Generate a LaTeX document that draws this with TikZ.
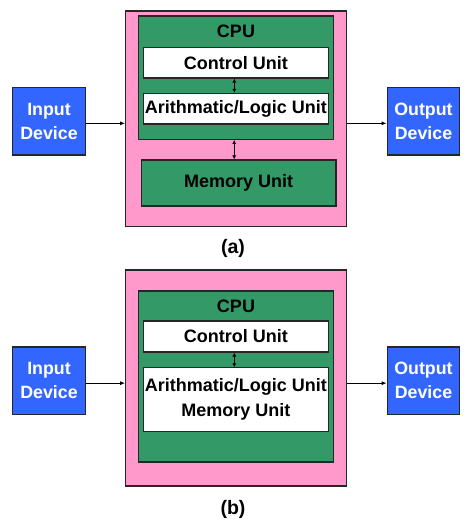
\documentclass[tikz,border=0pt]{standalone}
\usepackage{fontspec}
\setmainfont{Liberation Sans}
\usetikzlibrary{arrows.meta}
\definecolor{pinkbg}{HTML}{FF99CC}
\definecolor{cpugreen}{HTML}{339966}
\definecolor{devblue}{HTML}{3366FF}
\tikzset{
  box/.style={draw=black!85, line width=1.1pt, inner sep=0pt, rectangle},
  outerbox/.style={box, fill=pinkbg},
  cpubox/.style={box, fill=cpugreen},
  unitbox/.style={box, fill=white, minimum width=185pt, font=\bfseries\fontsize{18}{25}\selectfont, align=center},
  devbox/.style={box, fill=devblue, minimum width=72.6pt, minimum height=67.3pt, text=white, font=\bfseries\fontsize{17.8}{24}\selectfont, align=center},
  lbl/.style={font=\bfseries\fontsize{18}{21}\selectfont},
  conn/.style={line width=1pt, -{Latex[length=5pt,width=4pt]}},
  dconn/.style={line width=1pt, {Latex[length=4pt,width=4pt]}-{Latex[length=4pt,width=4pt]}}
}
\begin{document}
\begin{tikzpicture}[x=1pt,y=-1pt]
\useasboundingbox[fill=white] (0,0) rectangle (474,531);
% ---------- (a) ----------
\node[outerbox, minimum width=221pt, minimum height=215.7pt] (pinkA) at (236.2,118.85) {};
\node[cpubox, minimum width=195pt, minimum height=123.3pt] (cpuA) at (236.2,77.65) {};
\node[lbl] (cpuLabelA) at (236,31.7) {CPU};
\node[unitbox, minimum height=30.7pt] (cuA) at (235.8,62.65) {Control Unit};
\node[unitbox, minimum height=30.7pt] (aluA) at (235.8,108.65) {Arithmatic/Logic Unit};
\node[cpubox, minimum width=194.7pt, minimum height=46pt, font=\bfseries\fontsize{18}{21}\selectfont] (memA) at (238.65,183) {Memory Unit};
\node[devbox] (inA) at (49,121.35) {Input\\Device};
\node[devbox] (outA) at (423.5,121.35) {Output\\Device};
\draw[conn] ([yshift=-2pt]inA.east) -- ([yshift=-2pt]inA.east -| pinkA.west);
\draw[conn] ([yshift=-2pt]outA.west -| pinkA.east) -- ([yshift=-2pt]outA.west);
\draw[dconn] ([xshift=-1.5pt]cuA.south) -- ([xshift=-1.5pt]aluA.north);
\draw[dconn] ([xshift=-2pt]cpuA.south) -- ([xshift=-2pt]cpuA.south |- memA.north);
\node[font=\bfseries\fontsize{19.5}{22}\selectfont] (capA) at (233,248) {(a)};
% ---------- (b) ----------
\node[outerbox, minimum width=221pt, minimum height=216pt] (pinkB) at (236.2,378) {};
\node[cpubox, minimum width=195pt, minimum height=171pt] (cpuB) at (236.2,376.5) {};
\node[lbl] (cpuLabelB) at (236,306.7) {CPU};
\node[unitbox, minimum height=31pt] (cuB) at (235.8,336.5) {Control Unit};
\node[unitbox, minimum height=64pt] (aluB) at (235.8,399.8) {Arithmatic/Logic Unit\\Memory Unit};
\node[devbox] (inB) at (49,380.65) {Input\\Device};
\node[devbox] (outB) at (423.5,380.65) {Output\\Device};
\draw[conn] ([yshift=-2.5pt]inB.east) -- ([yshift=-2.5pt]inB.east -| pinkB.west);
\draw[conn] ([yshift=-2.5pt]outB.west -| pinkB.east) -- ([yshift=-2.5pt]outB.west);
\draw[dconn] ([xshift=-1.5pt]cuB.south) -- ([xshift=-1.5pt]aluB.north);
\node[font=\bfseries\fontsize{19.5}{22}\selectfont] (capB) at (233,509) {(b)};
\end{tikzpicture}
\end{document}
